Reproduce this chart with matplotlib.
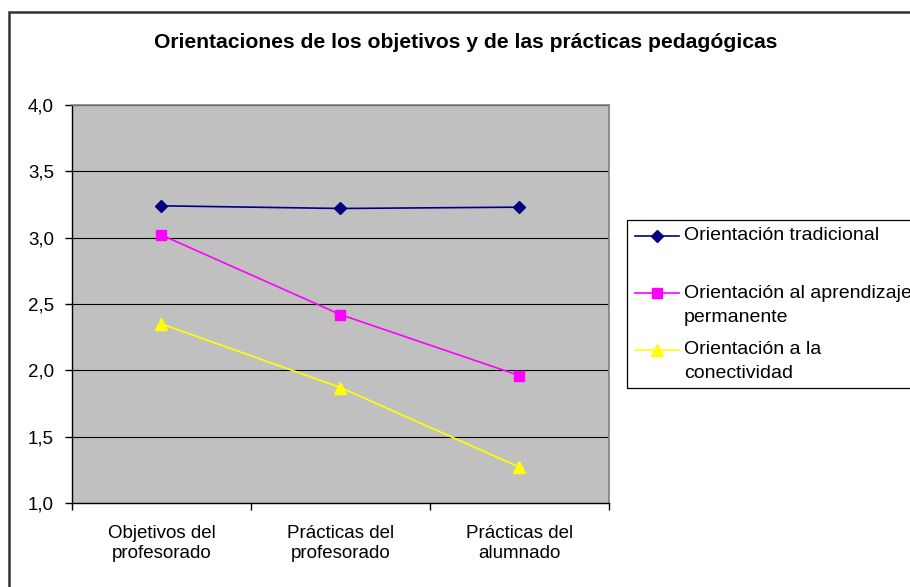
import numpy as np
import matplotlib
matplotlib.use("Agg")
import matplotlib.pyplot as plt
import matplotlib.patches as patches
from matplotlib.lines import Line2D

plt.rcParams['font.family'] = ['Liberation Sans', 'DejaVu Sans']

# data
categories = ["Objetivos del\nprofesorado", "Prácticas del\nprofesorado", "Prácticas del\nalumnado"]
tradicional = [3.24, 3.22, 3.23]
aprendizaje = [3.02, 2.42, 1.96]
conectividad = [2.35, 1.87, 1.27]
series_names = ["Orientación tradicional",
                "Orientación al aprendizaje\npermanente",
                "Orientación a la\nconectividad"]
y_ticks = [1.0, 1.5, 2.0, 2.5, 3.0, 3.5, 4.0]
title = "Orientaciones de los objetivos y de las prácticas pedagógicas"

W, H = 910, 587
fig = plt.figure(figsize=(W / 100, H / 100), dpi=100)


def fx(px):
    return px / W


def fy(py):
    return 1 - py / H


# outer chart border (right and bottom are cut off in the reference)
fig.patches.append(patches.Rectangle((fx(8.5), fy(600)), fx(920), fy(12) - fy(600),
                                     transform=fig.transFigure, fill=False,
                                     edgecolor='#333333', linewidth=1.8))

ax = fig.add_axes([fx(72), fy(503), fx(609) - fx(72), fy(105) - fy(503)])
ax.set_facecolor('#C0C0C0')

x = np.arange(len(categories))
styles = [
    (tradicional, '#000080', 'D', 6.5),
    (aprendizaje, '#FF00FF', 's', 6.5),
    (conectividad, '#FFFF00', '^', 8),
]
for vals, col, mk, ms in styles:
    ax.plot(x, vals, color=col, marker=mk, markersize=ms, linewidth=1.2,
            markeredgecolor=col, zorder=3)

ax.set_xlim(-0.5, len(categories) - 0.5)
ax.set_ylim(1.0, 4.0)
ax.set_yticks(y_ticks)
ax.set_yticklabels([f"{v:.1f}".replace('.', ',') for v in y_ticks], fontsize=13.5)
ax.yaxis.grid(True, color='black', linewidth=0.8)
ax.set_axisbelow(True)

ax.set_xticks(np.arange(len(categories) + 1) - 0.5)
ax.set_xticklabels([])
ax.set_xticks(x, minor=True)
ax.set_xticklabels(categories, minor=True, fontsize=13.5, linespacing=1.25)
ax.tick_params(axis='x', which='minor', length=0, pad=16)
ax.tick_params(axis='x', which='major', length=5, width=1, direction='out')
ax.tick_params(axis='y', length=5, width=1, direction='out', pad=8)

for s in ['top', 'right']:
    ax.spines[s].set_color('#808080')
    ax.spines[s].set_linewidth(1.2)
for s in ['left', 'bottom']:
    ax.spines[s].set_color('black')
    ax.spines[s].set_linewidth(1.0)

fig.text(fx(466), fy(43), title, ha='center', va='center',
         fontsize=15.2, fontweight='bold')

# legend box, drawn by hand so markers sit on the first text line
fig.patches.append(patches.Rectangle((fx(627), fy(388)), fx(300), fy(220) - fy(388),
                                     transform=fig.transFigure, fill=False,
                                     edgecolor='black', linewidth=0.9))
entry_y = [236, 293, 350]
for (vals, col, mk, ms), name, ey in zip(styles, series_names, entry_y):
    fig.lines.append(Line2D([fx(635), fx(679)], [fy(ey), fy(ey)],
                            transform=fig.transFigure, color=col, linewidth=1.2))
    fig.lines.append(Line2D([fx(657)], [fy(ey)], transform=fig.transFigure,
                            color=col, marker=mk, markersize=ms, markeredgecolor=col))
    for i, line in enumerate(name.split('\n')):
        fig.text(fx(684), fy(ey + i * 24), line, ha='left', va='center', fontsize=14)

fig.savefig("out.png", dpi=100)
